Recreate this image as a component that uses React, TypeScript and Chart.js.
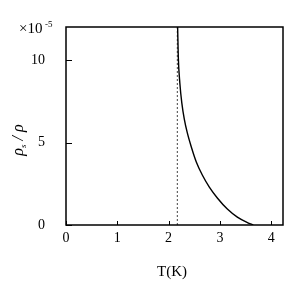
import React, { useEffect, useRef } from "react";
import { Chart, registerables } from "chart.js";

Chart.register(...registerables);

const temperatureK = [2.176, 2.189, 2.219, 2.258, 2.306, 2.365, 2.443, 2.54, 2.657, 2.794, 2.95, 3.145, 3.34, 3.535, 3.65];
const ratioE5 = [12.0, 10.18, 8.61, 7.39, 6.42, 5.58, 4.73, 3.82, 3.03, 2.3, 1.64, 0.97, 0.48, 0.15, 0];
const lambdaT = 2.17;
const xTicks = [0, 1, 2, 3, 4];
const yTicks = [0, 5, 10];
const xMax = 4.23;
const yMax = 12;

const FONT = "'Liberation Serif', 'DejaVu Serif', serif";

const framePlugin = {
  id: "frame",
  afterDraw(chart: any) {
    const { ctx, chartArea, scales } = chart;
    const { left, right, top, bottom } = chartArea;
    ctx.save();
    ctx.strokeStyle = "#000";
    ctx.lineWidth = 1.5;
    ctx.strokeRect(left, top, right - left, bottom - top);
    ctx.lineWidth = 1;
    xTicks.forEach((v) => {
      const x = Math.round(scales.x.getPixelForValue(v)) + 0.5;
      ctx.beginPath();
      ctx.moveTo(x, bottom);
      ctx.lineTo(x, bottom - 4);
      ctx.stroke();
    });
    yTicks.forEach((v) => {
      const y = Math.round(scales.y.getPixelForValue(v)) + 0.5;
      ctx.beginPath();
      ctx.moveTo(left, y);
      ctx.lineTo(left + 6, y);
      ctx.stroke();
    });
    ctx.fillStyle = "#000";
    ctx.textBaseline = "alphabetic";
    ctx.textAlign = "left";
    ctx.font = `15px ${FONT}`;
    ctx.fillText("×10", 19, 33);
    ctx.font = `9px ${FONT}`;
    ctx.fillText("-5", 45, 27);
    ctx.font = `15px ${FONT}`;
    ctx.textAlign = "center";
    ctx.fillText("T(K)", 172, 276);
    ctx.translate(23, 140);
    ctx.rotate(-Math.PI / 2);
    ctx.textAlign = "left";
    const p1 = "ρ";
    ctx.font = `italic 16px ${FONT}`;
    const w1 = ctx.measureText(p1).width;
    ctx.font = `italic 9px ${FONT}`;
    const ws = ctx.measureText("s").width;
    ctx.font = `italic 16px ${FONT}`;
    const rest = " / ρ";
    const wr = ctx.measureText(rest).width;
    const total = w1 + ws + wr;
    let x0 = -total / 2;
    ctx.fillText(p1, x0, 0);
    x0 += w1;
    ctx.font = `italic 9px ${FONT}`;
    ctx.fillText("s", x0, 3);
    x0 += ws;
    ctx.font = `italic 16px ${FONT}`;
    ctx.fillText(rest, x0, 0);
    ctx.restore();
  },
};

export default function App() {
  const ref = useRef<HTMLCanvasElement>(null);
  useEffect(() => {
    document.body.style.margin = "0";
    const chart = new Chart(ref.current!, {
      type: "line",
      data: {
        datasets: [
          {
            data: temperatureK.map((t, i) => ({ x: t, y: ratioE5[i] })),
            borderColor: "#000",
            borderWidth: 1.4,
            pointRadius: 0,
            cubicInterpolationMode: "monotone",
            fill: false,
          },
          {
            data: [
              { x: lambdaT, y: 0 },
              { x: lambdaT, y: yMax },
            ],
            borderColor: "#444",
            borderWidth: 1,
            borderDash: [2, 2],
            pointRadius: 0,
            fill: false,
          },
        ],
      },
      options: {
        animation: false,
        responsive: false,
        maintainAspectRatio: false,
        layout: { padding: { left: 0, right: 15, top: 27, bottom: 0 } },
        plugins: { legend: { display: false }, tooltip: { enabled: false } },
        scales: {
          x: {
            type: "linear",
            min: 0,
            max: xMax,
            grid: { display: false },
            border: { display: false },
            afterBuildTicks: (s: any) => {
              s.ticks = xTicks.map((v) => ({ value: v }));
            },
            afterFit: (s: any) => {
              s.height = 63;
            },
            ticks: {
              padding: -3,
              color: "#000",
              font: { family: FONT, size: 14 },
              maxRotation: 0,
            },
          },
          y: {
            min: 0,
            max: yMax,
            grid: { display: false },
            border: { display: false },
            afterBuildTicks: (s: any) => {
              s.ticks = yTicks.map((v) => ({ value: v }));
            },
            afterFit: (s: any) => {
              s.width = 66;
            },
            ticks: {
              padding: 13,
              color: "#000",
              font: { family: FONT, size: 14 },
            },
          },
        },
      },
      plugins: [framePlugin],
    });
    return () => chart.destroy();
  }, []);
  return (
    <div style={{ width: 298, height: 288, position: "relative" }}>
      <canvas ref={ref} width={298} height={288} style={{ display: "block" }} />
    </div>
  );
}
